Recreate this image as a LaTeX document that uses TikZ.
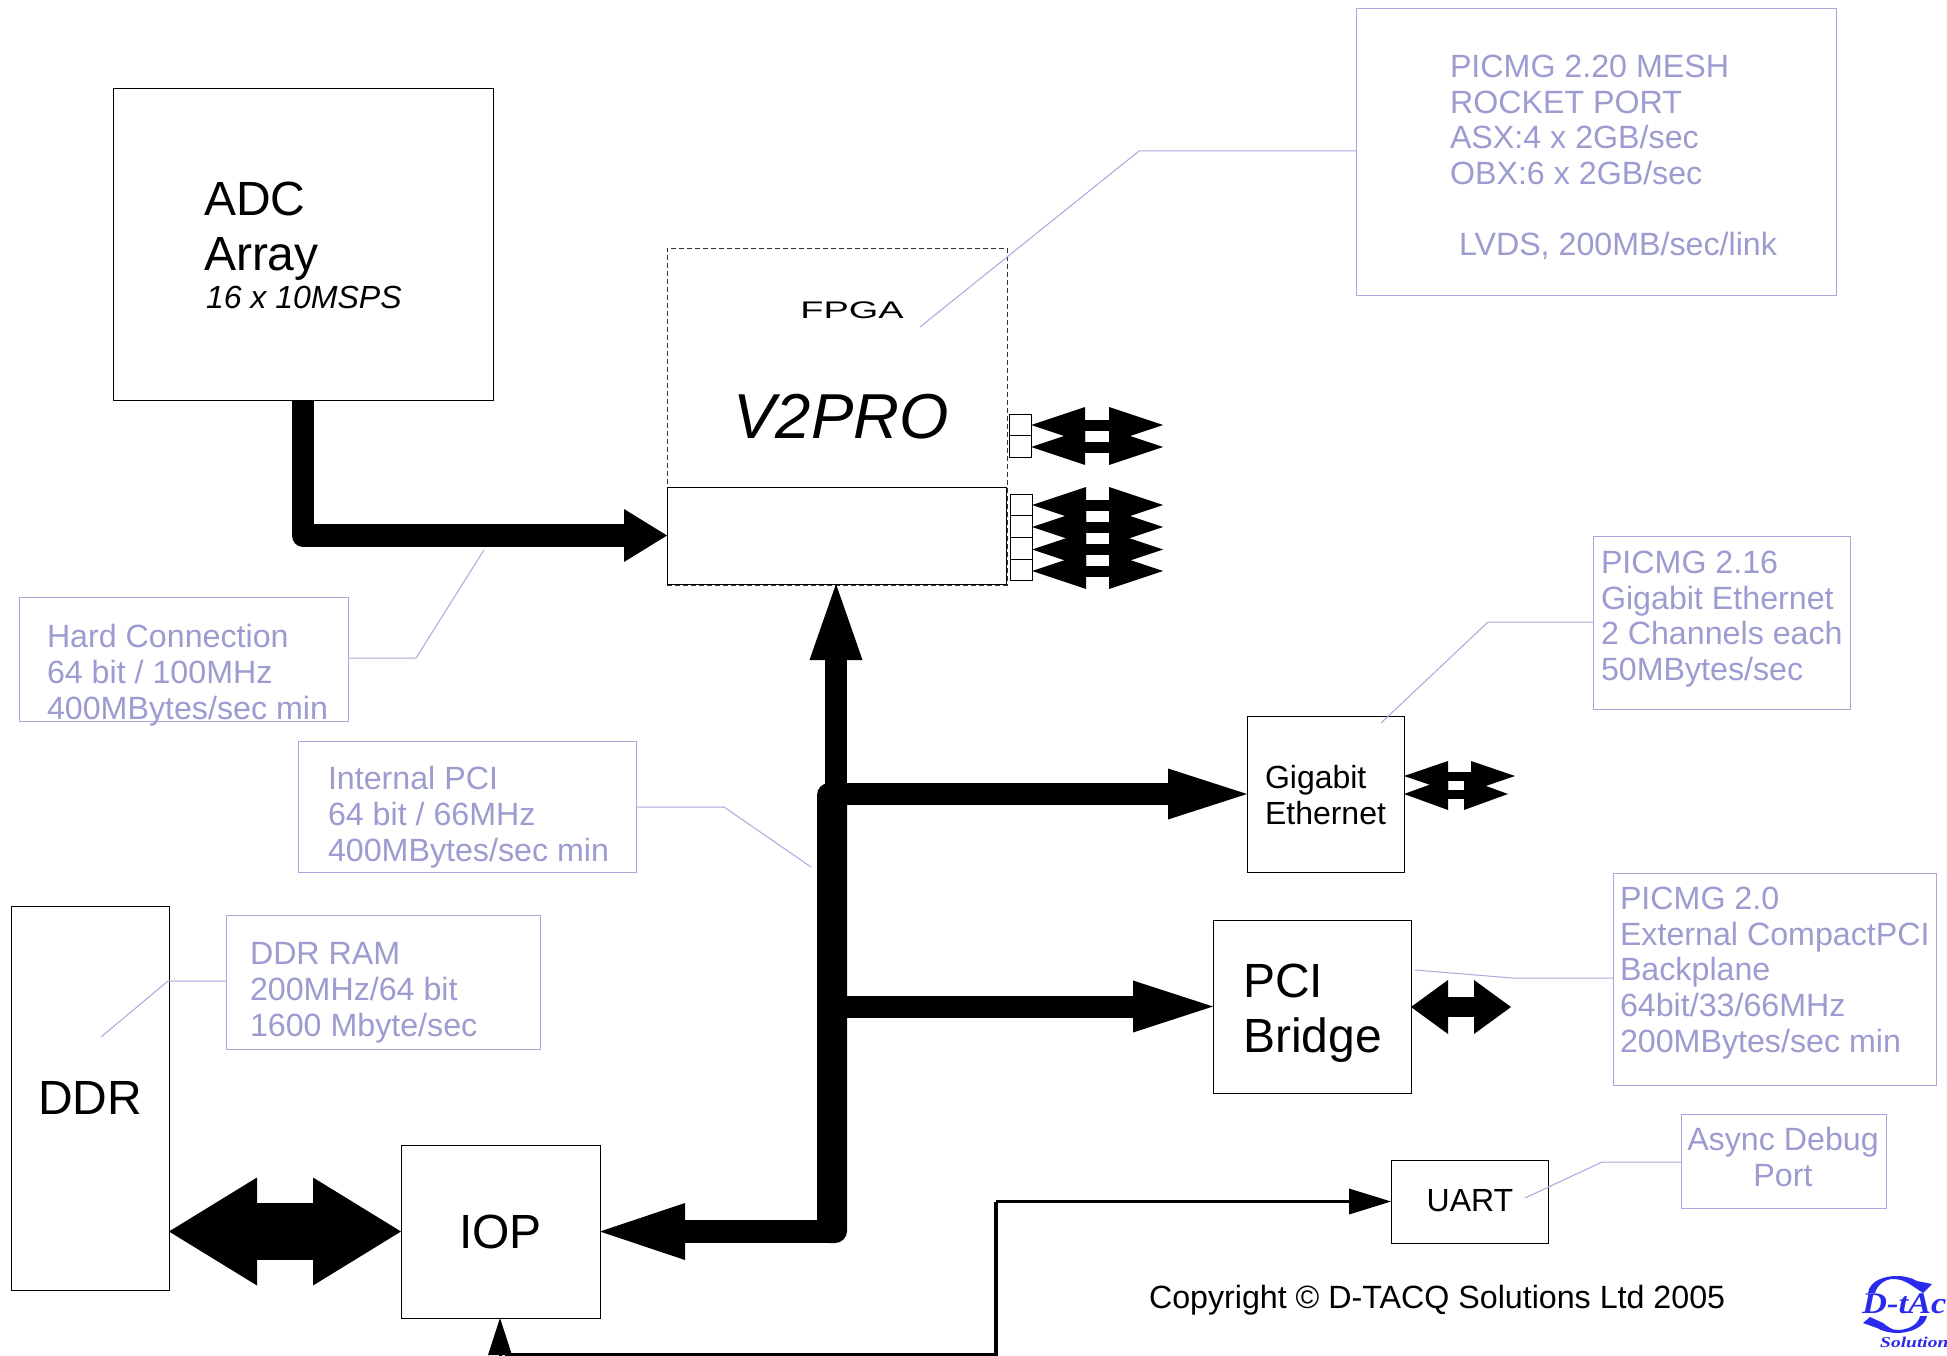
\documentclass[tikz,border=0pt]{standalone}
\usepackage{fontspec}
\usepackage{graphicx}
\setmainfont{Liberation Sans}
\newfontfamily\logofont{Liberation Serif}
\usetikzlibrary{arrows.meta,calc}
\definecolor{lav}{HTML}{9C9CD0}
\definecolor{lavline}{HTML}{A8A8DC}
\definecolor{logoblue}{HTML}{2A2AEE}
\newcommand{\fs}[1]{\fontsize{#1}{#1}\selectfont}
\tikzset{
  x=1pt,y=-1pt,
  box/.style n args={2}{draw=black,line width=0.9pt,fill=white,minimum width=#1,minimum height=#2,anchor=north west,inner sep=0,outer sep=0},
  callout/.style n args={2}{draw=lavline,line width=1pt,minimum width=#1,minimum height=#2,anchor=north west,inner sep=0,outer sep=0},
  leader/.style={draw=lavline,line width=1pt},
  ctext/.style={text=lav,inner sep=0,outer sep=0,align=left,anchor=west,font=\fontsize{32.2}{35.8}\selectfont},
  label/.style={text=black,inner sep=0,outer sep=0},
  bigarrow/.style n args={3}{draw=black,line width=#1,line join=round,-{Triangle[length=#2,width=#3,line width=0pt]}},
  dblarrow/.style n args={3}{draw=black,line width=#1,{Triangle[length=#2,width=#3,line width=0pt]}-{Triangle[length=#2,width=#3,line width=0pt]}},
  port/.style={draw=black,line width=0.9pt,fill=white,minimum width=22pt,minimum height=21.7pt,anchor=north west,inner sep=0,outer sep=0},
}
\begin{document}
\begin{tikzpicture}
\useasboundingbox[fill=white] (0,0) rectangle (1947,1356);

% main blocks
\node[box={380pt}{312pt}] (adc) at (113,88) {};
\node[box={340pt}{337pt},draw=black!80,dash pattern=on 5pt off 3pt] (fpga) at (667,248) {};
\node[box={339pt}{97pt}] (inner) at (667,487) {};
\node[box={157pt}{156pt}] (gig) at (1247,716) {};
\node[box={198pt}{173pt}] (pci) at (1213,920) {};
\node[box={158pt}{384pt}] (ddr) at (11,906) {};
\node[box={199pt}{173pt}] (iop) at (401,1145) {};
\node[box={157pt}{83pt}] (uart) at (1391,1160) {};

% text in blocks
\node[label,anchor=base west,font=\fs{48}] (tadc) at (204,216) {ADC};
\node[label,anchor=base west,font=\fs{48}] (tarr) at (204,271) {Array};
\node[label,anchor=base west,font=\fs{32}\itshape] (tms) at (206,309) {16 x 10MSPS};
\node[label,font=\fs{24}] (tfp) at (852,310) {\scalebox{1.58}[1]{FPGA}};
\node[label,font=\fs{63.5}\itshape] (tv2) at (841,417) {V2PRO};
\node[label,anchor=base west,font=\fs{32}] (tg1) at (1265,788) {Gigabit};
\node[label,anchor=base west,font=\fs{32}] (tg2) at (1265,824) {Ethernet};
\node[label,anchor=base west,font=\fs{48}] (tp1) at (1243,997) {PCI};
\node[label,anchor=base west,font=\fs{48}] (tp2) at (1243,1052) {Bridge};
\node[label,font=\fs{48}] (tddr) at (90,1098) {DDR};
\node[label,font=\fs{48}] (tiop) at (500.5,1232) {IOP};
\node[label,font=\fs{32}] (tua) at (1470,1201) {UART};

% bus
\node[fill=black,rounded corners=12pt,minimum width=30pt,minimum height=460pt,anchor=north west,inner sep=0,outer sep=0] (bus) at (817,783) {};
\coordinate (busup) at (836,800);
\coordinate (adcout) at (303,535.5);

% thick connectors
\draw[bigarrow={22pt}{79pt}{51pt}] (bus.center |- gig.west) -- (gig.west);
\draw[bigarrow={22pt}{80pt}{52pt}] (bus.center |- pci.west) -- (pci.west);
\draw[bigarrow={22pt}{76pt}{53pt}] (busup) -- (busup |- inner.south);
\draw[bigarrow={23pt}{85pt}{57pt}] (bus.center |- iop.east) -- (iop.east);
\draw[bigarrow={22.5pt}{43pt}{53pt}] (adcout |- adc.south) -- (adcout) -- (inner.west |- adcout);
\draw[dblarrow={57pt}{88pt}{108pt}] (ddr.east |- iop.west) -- (iop.west);

% ports and their arrows
\foreach \n/\x/\y/\c in {1/1009/414/425,2/1009/435.7/447,3/1010/494/505,4/1010/515.7/527,5/1010/537.4/549.5,6/1010/559.1/571}{
  \node[port] (p\n) at (\x,\y) {};
  \coordinate (e\n) at (1163,\c);
  \draw[dblarrow={11pt}{54pt}{36pt}] (p\n.east |- e\n) -- (e\n);
}
\coordinate (ga) at (1515,776);
\coordinate (gb) at (1508,794);
\draw[dblarrow={9pt}{44pt}{30pt}] (gig.east |- ga) -- (ga);
\draw[dblarrow={9pt}{44pt}{32pt}] (gig.east |- gb) -- (gb);
\coordinate (pe) at (1511,1007);
\draw[dblarrow={20pt}{37pt}{54pt}] (pci.east |- pe) -- (pe);

% UART line
\coordinate (ub) at (996,1201);
\coordinate (uc) at (996,1355);
\draw[draw=black,line width=3.2pt,-{Triangle[length=42pt,width=26pt,line width=0pt]}] (uc |- uart.west) -- (uart.west);
\draw[draw=black,line width=3.2pt,line join=miter] (uart.west -| uc) -- (uc) -- (505,1355);
\draw[draw=black,line width=3pt,-{Triangle[length=37pt,width=24pt,line width=0pt]}] (500,1356) -- (iop.south -| 500,0);

% callouts
\node[callout={480pt}{287pt}] (c1) at (1356,9) {};
\node[ctext] (c1t) at (1450,120) {PICMG 2.20 MESH\\ROCKET PORT\\ASX:4 x 2GB/sec\\OBX:6 x 2GB/sec};
\node[ctext] (c1u) at (1459,246) {LVDS, 200MB/sec/link};
\coordinate (l1) at (920,327);
\draw[leader] (c1.west |- 0,151) -- (1139,151) -- (l1);

\node[callout={329pt}{124pt}] (c2) at (19,597) {};
\node[ctext] (c2t) at (47,675) {Hard Connection\\64 bit / 100MHz\\400MBytes/sec min};
\coordinate (l2) at (484,550);
\draw[leader] (c2.east |- 0,658) -- (416,658) -- (l2);

\node[callout={338pt}{131pt}] (c3) at (298,741) {};
\node[ctext] (c3t) at (328,817) {Internal PCI\\64 bit / 66MHz\\400MBytes/sec min};
\coordinate (l3) at (811,867);
\draw[leader] (c3.east |- 0,807) -- (724,807) -- (l3);

\node[callout={314pt}{134pt}] (c4) at (226,915) {};
\node[ctext] (c4t) at (250,993) {DDR RAM\\200MHz/64 bit\\1600 Mbyte/sec};
\coordinate (l4) at (101,1037);
\draw[leader] (c4.west |- 0,981) -- (168,981) -- (l4);

\node[callout={257pt}{173pt}] (c5) at (1593,536) {};
\node[ctext] (c5t) at (1601,619) {PICMG 2.16\\Gigabit Ethernet\\2 Channels each\\50MBytes/sec};
\coordinate (l5) at (1381,723);
\draw[leader] (c5.west |- 0,622) -- (1488,622) -- (l5);

\node[callout={323pt}{212pt}] (c6) at (1613,873) {};
\node[ctext] (c6t) at (1620,973) {PICMG 2.0\\External CompactPCI\\Backplane\\64bit/33/66MHz\\200MBytes/sec min};
\coordinate (l6) at (1415,970);
\draw[leader] (c6.west |- 0,978) -- (1512,978) -- (l6);

\node[callout={205pt}{94pt}] (c7) at (1681,1114) {};
\node[ctext,align=center,anchor=center] (c7t) at (1783,1157) {Async Debug\\Port};
\coordinate (l7) at (1525,1198);
\draw[leader] (c7.west |- 0,1162) -- (1602,1162) -- (l7);

% copyright
\node[label,anchor=base west,font=\fs{32.2}] (copy) at (1149,1308) {Copyright © D-TACQ Solutions Ltd 2005};

% logo
\fill[logoblue] (1868,1293) .. controls (1870,1280) and (1885,1276) .. (1897,1276) .. controls (1905,1276) and (1912,1278) .. (1917,1281) -- (1932,1284) -- (1923,1293) -- (1911,1285) .. controls (1905,1281) and (1900,1279) .. (1893,1279) .. controls (1885,1279) and (1877,1285) .. (1875,1293) -- cycle;
\fill[logoblue] (1927,1316) .. controls (1925,1327) and (1910,1333) .. (1897,1333) .. controls (1890,1333) and (1882,1331) .. (1877,1328) -- (1863,1323) -- (1870,1317) -- (1883,1323) .. controls (1888,1327) and (1892,1330) .. (1897,1330) .. controls (1908,1330) and (1918,1325) .. (1920,1316) -- cycle;
\node[anchor=base west,inner sep=0,text=logoblue,font=\logofont\bfseries\itshape\fs{30}] (lg1) at (1862,1313) {\scalebox{1.15}[1]{D-tAc}};
\node[anchor=base west,inner sep=0,text=logoblue,font=\logofont\bfseries\itshape\fs{15}] (lg2) at (1880,1347) {\scalebox{1.3}[1]{Solutions}};
\end{tikzpicture}
\end{document}
